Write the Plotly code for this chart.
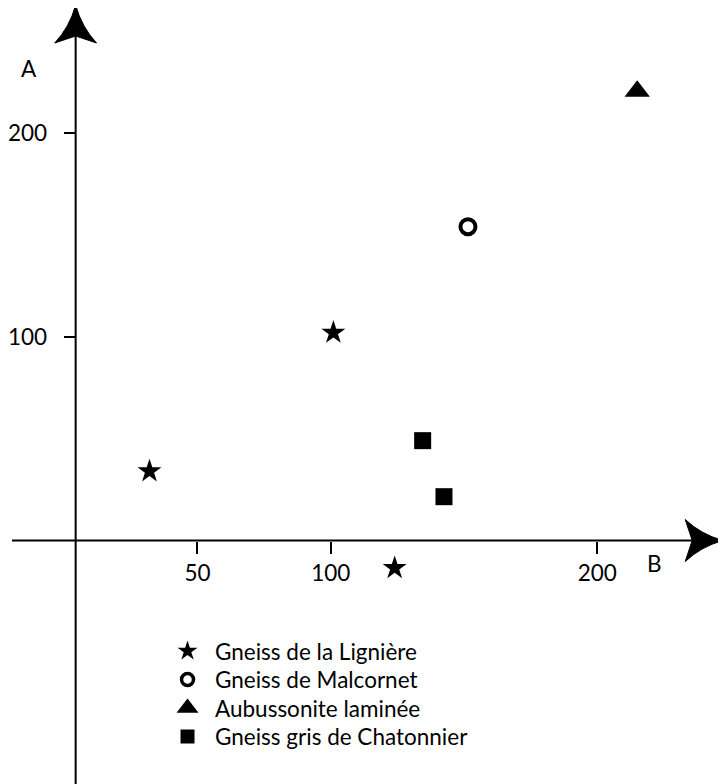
import plotly.graph_objects as go

# ---- data ----
series_names = ["Gneiss de la Lignière", "Gneiss de Malcornet",
                "Aubussonite laminée", "Gneiss gris de Chatonnier"]
lig_B = [32, 101, 124]
lig_A = [34, 102, -13.5]
mal_B = [151.5]
mal_A = [154]
aub_B = [215]
aub_A = [220.5]
chat_B = [134.5, 142.5]
chat_A = [49, 21.5]
x_ticks = [50, 100, 200]
y_ticks = [100, 200]

# ---- layout helpers (reference pixel frame; page body has an 8px margin) ----
OFF = 8
W, H = 726 - OFF, 784 - OFF
FONT = "Lato"
FS = 22.5

def px(x):
    return (x - OFF) / W

def py(y):
    return 1 - (y - OFF) / H

# pixel scale of the data axes
X0PX, XSC = 60.5, 2.68      # pixel of B=0, pixels per unit
Y0PX, YSC = 540.5, 2.0375   # pixel of A=0, pixels per unit
x_lo = (OFF - X0PX) / XSC
x_hi = (726 - X0PX) / XSC
y_hi = (Y0PX - OFF) / YSC
y_lo = -(784 - Y0PX) / YSC

styles = [
    dict(symbol="star", size=18, color="black"),
    dict(symbol="circle-open", size=15, color="black", line=dict(width=4, color="black")),
    dict(symbol="triangle-up", size=22, color="black"),
    dict(symbol="square", size=17, color="black"),
]
legend_styles = [
    dict(symbol="star", size=15, color="black"),
    dict(symbol="circle-open", size=12, color="black", line=dict(width=3.5, color="black")),
    dict(symbol="triangle-up", size=19, color="black"),
    dict(symbol="square", size=14, color="black"),
]
series = [(lig_B, lig_A), (mal_B, mal_A), (aub_B, aub_A), (chat_B, chat_A)]

fig = go.Figure()
for name, (bx, ay), st in zip(series_names, series, styles):
    fig.add_trace(go.Scatter(x=bx, y=ay, mode="markers", name=name,
                             marker=st, showlegend=False,
                             hovertemplate="B=%{x}<br>A=%{y}<extra>" + name + "</extra>"))

# ---- hand-drawn legend on an overlay pixel axis ----
LEG_X_SYM, LEG_X_TXT, LEG_TOP, LEG_STEP = 184.5, 210, 651, 28.5
annotations = []
for i, (name, st) in enumerate(zip(series_names, legend_styles)):
    yrow = LEG_TOP + i * LEG_STEP
    fig.add_trace(go.Scatter(x=[LEG_X_SYM], y=[yrow], xaxis="x2", yaxis="y2",
                             mode="markers", marker=st, showlegend=False,
                             hoverinfo="skip"))
    annotations.append(dict(text=name, xref="x2", yref="y2", x=LEG_X_TXT, y=yrow,
                            xanchor="left", yanchor="middle", showarrow=False,
                            font=dict(family=FONT, size=FS, color="black")))

# axis titles
annotations.append(dict(text="A", xref="paper", yref="paper", x=px(25.5), y=py(69),
                        xanchor="center", yanchor="middle", showarrow=False,
                        font=dict(family=FONT, size=FS, color="black")))
annotations.append(dict(text="B", xref="paper", yref="paper", x=px(654), y=py(563.5),
                        xanchor="center", yanchor="middle", showarrow=False,
                        font=dict(family=FONT, size=FS, color="black")))

# ---- axis lines with arrowheads ----
ox, oy = 72, Y0PX
shapes = []
shapes.append(dict(type="line", xref="paper", yref="paper",
                   x0=px(ox), x1=px(ox), y0=py(784), y1=py(36),
                   line=dict(color="black", width=2)))
shapes.append(dict(type="line", xref="paper", yref="paper",
                   x0=px(OFF), x1=px(692), y0=py(oy), y1=py(oy),
                   line=dict(color="black", width=2)))
tipx, tipy = ox, 5
path_up = (f"M {px(tipx)},{py(tipy)} "
           f"Q {px(tipx+6)},{py(tipy+22)} {px(tipx+21)},{py(tipy+38)} "
           f"L {px(tipx)},{py(tipy+31)} "
           f"L {px(tipx-21)},{py(tipy+38)} "
           f"Q {px(tipx-6)},{py(tipy+22)} {px(tipx)},{py(tipy)} Z")
shapes.append(dict(type="path", xref="paper", yref="paper", path=path_up,
                   fillcolor="black", line=dict(color="black", width=1)))
tx, ty = 723, oy
path_right = (f"M {px(tx)},{py(ty)} "
              f"Q {px(tx-22)},{py(ty-6)} {px(tx-38)},{py(ty-21)} "
              f"L {px(tx-31)},{py(ty)} "
              f"L {px(tx-38)},{py(ty+21)} "
              f"Q {px(tx-22)},{py(ty+6)} {px(tx)},{py(ty)} Z")
shapes.append(dict(type="path", xref="paper", yref="paper", path=path_right,
                   fillcolor="black", line=dict(color="black", width=1)))

fig.update_layout(
    width=W, height=H,
    margin=dict(l=0, r=0, t=0, b=0),
    plot_bgcolor="white", paper_bgcolor="white",
    font=dict(family=FONT, size=FS, color="black"),
    showlegend=False,
    xaxis=dict(range=[x_lo, x_hi], tickvals=x_ticks, ticktext=[str(v) for v in x_ticks],
               showgrid=False, zeroline=False, showline=False, domain=[0, 1],
               anchor="free", position=py(oy), ticks="outside", ticklen=12,
               tickwidth=2, tickcolor="black", ticklabelstandoff=0,
               tickfont=dict(family=FONT, size=FS, color="black")),
    yaxis=dict(range=[y_lo, y_hi], tickvals=y_ticks, ticktext=[str(v) for v in y_ticks],
               showgrid=False, zeroline=False, showline=False, domain=[0, 1],
               anchor="free", position=px(ox), ticks="outside", ticklen=12,
               tickwidth=2, tickcolor="black", ticklabelstandoff=12,
               tickfont=dict(family=FONT, size=FS, color="black")),
    xaxis2=dict(range=[OFF, 726], domain=[0, 1], anchor="y2", overlaying="x",
                visible=False, fixedrange=True),
    yaxis2=dict(range=[784, OFF], domain=[0, 1], anchor="x2", overlaying="y",
                visible=False, fixedrange=True),
    shapes=shapes,
    annotations=annotations,
)

fig.write_html("out.html")
